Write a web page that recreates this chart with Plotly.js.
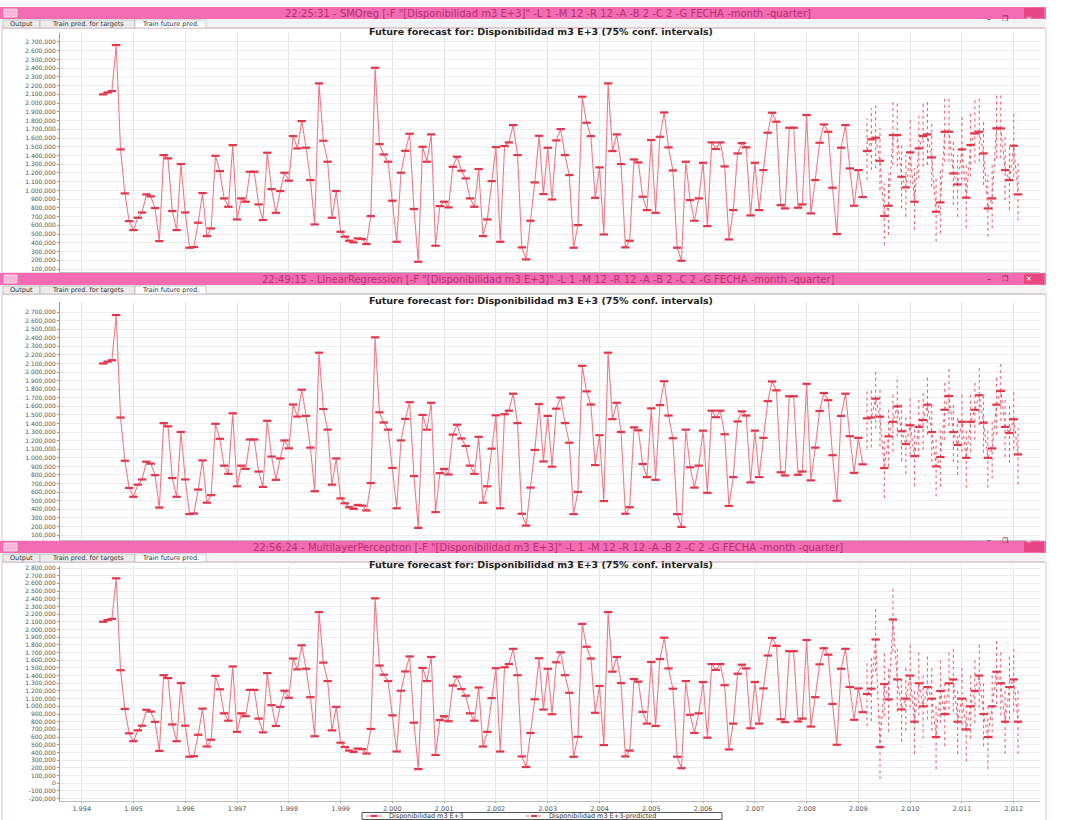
<!DOCTYPE html>
<html><head><meta charset="utf-8">
<script src="https://cdn.plot.ly/plotly-3.0.1.min.js"></script>
<style>html,body{margin:0;padding:0;background:#fff}#chart{width:1066px;height:820px}</style>
</head><body><div id="chart"></div>
<script>
// ---------- DATA ----------
const histStartYear = 1994;
const histStartMonth = 6;   // June 1994
const histValues = [2100,2122,2138,2665,1470,966,649,546,687,748,955,932,798,420,1405,1367,764,546,1302,748,
344,351,630,970,477,565,1397,1222,909,813,1519,668,909,871,1214,1214,840,661,1432,1015,
744,993,1203,1111,1622,1481,1794,1489,1119,611,2226,1569,1329,687,993,527,470,424,405,451,
443,386,706,2405,1531,1412,1329,882,412,1203,1454,1649,787,183,1500,1329,1642,367,821,871,
806,1271,1386,1226,1138,909,813,1245,477,668,1107,1496,412,1508,1550,1748,1405,348,210,653,
1092,1626,958,1489,897,1573,1703,1405,1176,344,603,2073,1775,1622,916,1264,496,2226,1451,1642,
1302,348,424,1355,1321,928,775,1577,744,1615,1893,1493,1229,344,195,1329,890,653,909,1317,
592,1550,1474,1550,1275,439,775,1424,1542,1493,714,1317,775,1233,1661,1890,1787,832,794,1718,
1718,802,840,1863,737,1119,1546,1756,1672,1031,500,1489,1748,1252,825,1233,924];

const fcStartYear = 2009;
const fcStartMonth = 3;
const smoForecast = [1451,1585,1604,1340,707,825,1634,1634,1157,1035,1436,871,1482,1623,1642,1378,756,863,1672,1672,1195,1069,1470,917,1520,1653,1672,1424,794,909,1711,1711,1233,1119,1512,955];
const smoUpper    = [1825,1940,1978,1711,1081,1195,2016,1997,1539,1405,1806,1253,1863,1997,2035,1768,1138,1233,2054,2054,1577,1405,1863,1310,1900,2035,2073,1806,1176,1290,2111,2111,1615,1500,1900,1348];
const smoLower    = [1119,1233,1253,1004,375,489,1291,1272,794,699,1081,546,1138,1272,1291,1043,413,508,1329,1329,833,699,1119,566,1157,1310,1329,1061,470,566,1367,1367,890,775,1157,660];

const lrForecast = [1460,1470,1690,1480,880,1250,1420,1600,1310,1160,1380,1020,1360,1440,1620,1300,900,1010,1560,1720,1300,1150,1420,1000,1420,1560,1730,1410,1000,1110,1620,1780,1360,1290,1450,1040];
const lrUpper    = [1810,1820,2040,1830,1230,1600,1770,1950,1660,1510,1730,1370,1710,1790,1970,1650,1250,1360,1910,2070,1650,1500,1770,1350,1770,1910,2080,1760,1350,1460,1970,2130,1710,1640,1800,1390];
const lrLower    = [1110,1120,1340,1130,530,900,1070,1250,960,810,1030,670,1010,1090,1270,950,550,660,1210,1370,950,800,1070,650,1070,1210,1380,1060,650,760,1270,1430,1010,940,1100,690];

const mlpForecast = [1160,1230,1870,470,1290,1090,2130,1350,960,1100,1400,800,1300,1000,1250,1100,600,1200,900,1300,1350,800,1100,700,1000,1200,1400,900,600,1000,1450,1300,800,1250,1350,800];
const mlpUpper    = [1580,1650,2290,890,1710,1510,2550,1770,1380,1520,1820,1220,1720,1420,1670,1520,1020,1620,1320,1720,1770,1220,1520,1120,1420,1620,1820,1320,1020,1420,1870,1720,1220,1670,1770,1220];
const mlpLower    = [740,810,1450,50,870,670,1710,930,540,680,980,380,880,580,830,680,180,780,480,880,930,380,680,280,580,780,980,480,180,580,1030,880,380,830,930,380];

const panelTitles = [
  '22:25:31 - SMOreg [-F "[Disponibilidad m3 E+3]" -L 1 -M 12 -R 12 -A -B 2 -C 2 -G FECHA -month -quarter]',
  '22:49:15 - LinearRegression [-F "[Disponibilidad m3 E+3]" -L 1 -M 12 -R 12 -A -B 2 -C 2 -G FECHA -month -quarter]',
  '22:56:24 - MultilayerPerceptron [-F "[Disponibilidad m3 E+3]" -L 1 -M 12 -R 12 -A -B 2 -C 2 -G FECHA -month -quarter]'
];
const chartTitle = 'Future forecast for: Disponibilidad m3 E+3 (75% conf. intervals)';
const tabLabels = ['Output', 'Train pred. for targets', 'Train future pred.'];
const seriesName = 'Disponibilidad m3 E+3';
const predName = 'Disponibilidad m3 E+3-predicted';
const yearTicks = [1994,1995,1996,1997,1998,1999,2000,2001,2002,2003,2004,2005,2006,2007,2008,2009,2010,2011,2012];

// ---------- HELPERS ----------
const W = 1066, H = 820;
const px = v => v / W;
const py = v => 1 - v / H;
function monthX(y0, m0, i) { return y0 + (m0 - 1 + i) / 12; }
const histX = histValues.map((_, i) => monthX(histStartYear, histStartMonth, i));
const fcX = smoForecast.map((_, i) => monthX(fcStartYear, fcStartMonth, i));

function fmt(v) {
  if (v === 0) return '0';
  const neg = v < 0; const a = Math.abs(v);
  const s = String(a).replace(/\B(?=(\d{3})+(?!\d))/g, '.');
  return (neg ? '-' : '') + s + ',000';
}
function yearFmt(y) { return String(y).replace(/\B(?=(\d{3})+(?!\d))/g, '.'); }
function ticks(lo, hi) { const t = []; for (let v = lo; v <= hi; v += 100) t.push(v); return t; }

const RED_LINE = '#f37a85';
const RED_MK = '#e2364c';
const FC_LINE = '#ee6676';
const FONT = 'DejaVu Sans, sans-serif';

const panels = [
  {fc: smoForecast, up: smoUpper, lo: smoLower, top: 33, bot: 272, yr: [66, 2803], tk: ticks(100, 2700)},
  {fc: lrForecast, up: lrUpper, lo: lrLower, top: 302, bot: 540, yr: [42, 2817], tk: ticks(100, 2700)},
  {fc: mlpForecast, up: mlpUpper, lo: mlpLower, top: 566, bot: 801, yr: [-232, 2826], tk: ticks(-200, 2800)}
];
const bars = [7, 273, 541];   // top of pink title bar (px)

const xRange = [1993.581, 2012.507];
const traces = [];
const layout = {
  width: W, height: H, margin: {l: 0, r: 0, t: 0, b: 0, autoexpand: false},
  paper_bgcolor: '#ffffff', plot_bgcolor: '#ffffff',
  showlegend: false,
  shapes: [], annotations: []
};

panels.forEach((p, k) => {
  const n = k + 1;
  const xa = 'xaxis' + (n === 1 ? '' : n), ya = 'yaxis' + (n === 1 ? '' : n);
  const xr = 'x' + (n === 1 ? '' : n), yr = 'y' + (n === 1 ? '' : n);
  layout[xa] = {domain: [px(60), px(1040)], range: xRange, anchor: yr,
    tickvals: yearTicks, ticktext: yearTicks.map(yearFmt),
    showticklabels: n === 3, showgrid: true, gridcolor: '#e4e4e4', gridwidth: 1,
    zeroline: false, showline: true, linecolor: '#bdbdbd', ticks: n === 3 ? 'outside' : '',
    ticklen: 1, tickcolor: '#999',
    tickfont: {family: FONT, size: 6.5, color: '#555'}};
  layout[ya] = {domain: [py(p.bot), py(p.top)], range: p.yr, anchor: xr,
    tickvals: p.tk, ticktext: p.tk.map(fmt), showgrid: true, gridcolor: '#ececec', gridwidth: 1,
    zeroline: false, showline: true, linecolor: '#9a9a9a', ticks: 'outside', ticklen: 2, tickcolor: '#999',
    tickfont: {family: FONT, size: 6, color: '#555'}};

  traces.push({x: histX, y: histValues, xaxis: xr, yaxis: yr, type: 'scatter', mode: 'lines+markers',
    name: seriesName, line: {color: RED_LINE, width: 1.1},
    marker: {symbol: 'line-ew', size: 6, line: {width: 2.2, color: RED_MK}}});
  const ix = [], iy = [];
  p.fc.forEach((v, i) => { ix.push(fcX[i], fcX[i], null); iy.push(p.lo[i], p.up[i], null); });
  traces.push({x: ix, y: iy, xaxis: xr, yaxis: yr, type: 'scatter', mode: 'lines',
    hoverinfo: 'skip', line: {color: FC_LINE, width: 1.1, dash: 'dot'}});
  traces.push({x: fcX, y: p.fc, xaxis: xr, yaxis: yr, type: 'scatter', mode: 'lines+markers',
    name: predName, line: {color: FC_LINE, width: 1.1, dash: 'dot'},
    marker: {symbol: 'line-ew', size: 6, line: {width: 2.2, color: RED_MK}}});

  // window chrome
  const b = bars[k];
  layout.shapes.push({type: 'rect', xref: 'paper', yref: 'paper', x0: 0, x1: px(1046), y0: py(b), y1: py(b + 12),
    fillcolor: '#f26bb3', line: {width: 0}, layer: 'below'});
  layout.shapes.push({type: 'rect', xref: 'paper', yref: 'paper', x0: px(1024), x1: px(1044), y0: py(b + 1), y1: py(b + 11),
    fillcolor: '#e8467f', line: {width: 0}});
  layout.shapes.push({type: 'rect', xref: 'paper', yref: 'paper', x0: px(4), x1: px(17), y0: py(b + 2), y1: py(b + 10),
    fillcolor: '#f7b5d8', line: {width: 0.6, color: '#ffffff'}});
  layout.shapes.push({type: 'rect', xref: 'paper', yref: 'paper', x0: 0, x1: px(1046), y0: py(b + 12), y1: py(b + 21),
    fillcolor: '#f3f3f3', line: {width: 0}, layer: 'below'});
  const tabs = [[3, 40], [40, 135], [135, 206]];
  tabs.forEach((t, j) => {
    layout.shapes.push({type: 'rect', xref: 'paper', yref: 'paper', x0: px(t[0]), x1: px(t[1]), y0: py(b + 13), y1: py(b + 21),
      fillcolor: j === 2 ? '#ffffff' : '#ececec', line: {width: 0.6, color: '#aaaaaa'}});
    layout.annotations.push({xref: 'paper', yref: 'paper', x: px((t[0] + t[1]) / 2), y: py(b + 17), text: tabLabels[j],
      showarrow: false, xanchor: 'center', yanchor: 'middle',
      font: {family: FONT, size: 6.5, color: '#333'}});
  });
  layout.shapes.push({type: 'line', xref: 'paper', yref: 'paper', x0: px(206), x1: px(1044), y0: py(b + 21), y1: py(b + 21),
    line: {width: 0.6, color: '#bbbbbb'}});
  layout.annotations.push({xref: 'paper', yref: 'paper', x: px(548), y: py(b + 6), text: panelTitles[k],
    showarrow: false, xanchor: 'center', yanchor: 'middle',
    font: {family: FONT, size: 10, color: '#b8306e'}});
  layout.annotations.push({xref: 'paper', yref: 'paper', x: px(993), y: py(b + 6), text: '–',
    showarrow: false, font: {family: FONT, size: 8, color: '#7a1d4a'}});
  layout.annotations.push({xref: 'paper', yref: 'paper', x: px(1010), y: py(b + 6), text: '❐',
    showarrow: false, font: {family: FONT, size: 7, color: '#7a1d4a'}});
  layout.annotations.push({xref: 'paper', yref: 'paper', x: px(1034), y: py(b + 6), text: '✕',
    showarrow: false, font: {family: FONT, size: 7, color: '#ffffff'}});
  layout.annotations.push({xref: 'paper', yref: 'paper', x: px(541), y: py(p.top - 2), text: '<b>' + chartTitle + '</b>',
    showarrow: false, xanchor: 'center', yanchor: 'middle',
    font: {family: FONT, size: 9.5, color: '#222'}});
  layout.shapes.push({type: 'rect', xref: 'paper', yref: 'paper', x0: px(2), x1: px(1046), y0: py(b + 21), y1: py(k === 2 ? 822 : bars[k + 1]),
    fillcolor: 'rgba(0,0,0,0)', line: {width: 0.8, color: '#e8a6c8'}, layer: 'below'});
});

// ---------- custom legend (box at the bottom edge, as in the reference) ----------
layout.shapes.push({type: 'rect', xref: 'paper', yref: 'paper', x0: px(362), x1: px(722), y0: py(812.5), y1: py(819.5),
  fillcolor: '#ffffff', line: {width: 1, color: '#555'}});
[[366, 382, 'solid'], [526, 542, 'dot']].forEach(s => {
  layout.shapes.push({type: 'line', xref: 'paper', yref: 'paper', x0: px(s[0]), x1: px(s[1]), y0: py(816), y1: py(816),
    line: {width: 1.1, color: s[2] === 'solid' ? RED_LINE : FC_LINE, dash: s[2]}});
  layout.shapes.push({type: 'line', xref: 'paper', yref: 'paper', x0: px((s[0] + s[1]) / 2 - 3), x1: px((s[0] + s[1]) / 2 + 3),
    y0: py(816), y1: py(816), line: {width: 2.2, color: RED_MK}});
});
layout.annotations.push({xref: 'paper', yref: 'paper', x: px(388), y: py(816), text: seriesName, showarrow: false,
  xanchor: 'left', yanchor: 'middle', borderpad: 0, font: {family: FONT, size: 6.5, color: '#333'}});
layout.annotations.push({xref: 'paper', yref: 'paper', x: px(548), y: py(816), text: predName, showarrow: false,
  xanchor: 'left', yanchor: 'middle', borderpad: 0, font: {family: FONT, size: 6.5, color: '#333'}});

Plotly.newPlot('chart', traces, layout, {displayModeBar: false, staticPlot: true});
</script></body></html>
